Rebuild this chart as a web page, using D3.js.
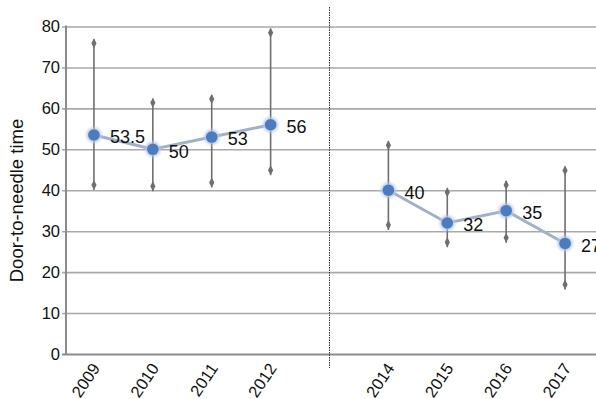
<!DOCTYPE html>
<html>
<head>
<meta charset="utf-8">
<script src="https://cdn.jsdelivr.net/npm/d3@7"></script>
<style>
  html, body { margin: 0; padding: 0; background: #fff; }
  svg { display: block; font-family: "Liberation Sans", Arial, Helvetica, sans-serif; }
</style>
</head>
<body>
<svg id="chart" width="596" height="399"></svg>
<script>
// Door-to-needle time per year, with low/high range whiskers
const years = ["2009", "2010", "2011", "2012", "2013", "2014", "2015", "2016", "2017"];
const periodA = ["2009", "2010", "2011", "2012"];
const periodB = ["2014", "2015", "2016", "2017"];
const medianA = [53.5, 50, 53, 56];
const medianB = [40, 32, 35, 27];
const lowA = [41.3, 41, 41.9, 44.9];
const lowB = [31.5, 27.3, 28.4, 17];
const highA = [75.9, 61.4, 62.3, 78.5];
const highB = [51, 39.5, 41.3, 44.8];
const yTicks = [0, 10, 20, 30, 40, 50, 60, 70, 80];
const breakYear = "2013";

const svg = d3.select("#chart");
const W = 596, H = 399;
const plotLeft = 66, plotTop = 26.5, plotBottom = 354;

const x = d3.scaleBand().domain(years).range([plotLeft - 1.5, W - 1.5]).padding(0);
const cx = d => x(d) + x.bandwidth() / 2;
const y = d3.scaleLinear().domain([0, 80]).range([plotBottom, plotTop]);

const defs = svg.append("defs");
const glow = defs.append("filter").attr("id", "glow")
  .attr("x", "-100%").attr("y", "-100%").attr("width", "300%").attr("height", "300%");
glow.append("feGaussianBlur").attr("stdDeviation", 1.6);

// Horizontal gridlines
const yAxis = d3.axisLeft(y).tickValues(yTicks).tickSize(-(W - plotLeft)).tickPadding(6);
const gy = svg.append("g").attr("transform", `translate(${plotLeft},0)`).call(yAxis);
gy.select(".domain").remove();
gy.selectAll(".tick line")
  .attr("stroke", "#a9a9a9").attr("stroke-width", 1.6)
  .attr("x1", -4);
gy.selectAll(".tick text")
  .attr("fill", "#111").attr("font-size", 16.5).attr("x", -6);
gy.selectAll(".tick").filter(d => d === 0).select("line").attr("stroke", "#8c8c8c").attr("stroke-width", 2);

// Left axis line
svg.append("line")
  .attr("x1", plotLeft).attr("x2", plotLeft).attr("y1", plotTop - 1).attr("y2", plotBottom + 1)
  .attr("stroke", "#8c8c8c").attr("stroke-width", 2);

// Dotted separator at the break year
svg.append("line")
  .attr("x1", cx(breakYear)).attr("x2", cx(breakYear))
  .attr("y1", 7).attr("y2", 368)
  .attr("stroke", "#333").attr("stroke-width", 1).attr("stroke-dasharray", "1.5,1");

// Bottom year labels
const xAxis = d3.axisBottom(x).tickValues(years.filter(d => d !== breakYear)).tickSize(0);
const gx = svg.append("g").attr("transform", `translate(0,${plotBottom})`).call(xAxis);
gx.select(".domain").remove();
gx.selectAll(".tick text")
  .attr("font-size", 16.5).attr("fill", "#111")
  .attr("text-anchor", "end")
  .attr("dy", "0.35em")
  .attr("transform", "translate(2,11) rotate(-56)")
  .attr("y", 0).attr("x", 0);

function drawPeriod(cats, med, lo, hi) {
  const rows = cats.map((c, i) => ({ c, m: med[i], lo: lo[i], hi: hi[i] }));
  const g = svg.append("g");

  // whiskers
  g.selectAll(".whisker").data(rows).join("line")
    .attr("x1", d => cx(d.c)).attr("x2", d => cx(d.c))
    .attr("y1", d => y(d.hi) - 4).attr("y2", d => y(d.lo) + 5)
    .attr("stroke", "#6f6f6f").attr("stroke-width", 1.6);
  const diamond = (px, py) => `M${px},${py - 5}L${px + 2.6},${py}L${px},${py + 5}L${px - 2.6},${py}Z`;
  g.selectAll(".capHi").data(rows).join("path")
    .attr("d", d => diamond(cx(d.c), y(d.hi))).attr("fill", "#6f6f6f");
  g.selectAll(".capLo").data(rows).join("path")
    .attr("d", d => diamond(cx(d.c), y(d.lo))).attr("fill", "#6f6f6f");

  // connecting line
  const line = d3.line().x(d => cx(d.c)).y(d => y(d.m));
  g.append("path").datum(rows).attr("d", line)
    .attr("fill", "none").attr("stroke", "#a2b1c6").attr("stroke-width", 3);

  // points with soft halo
  g.selectAll(".halo").data(rows).join("circle")
    .attr("cx", d => cx(d.c)).attr("cy", d => y(d.m)).attr("r", 7.5)
    .attr("fill", "#b9c8df").attr("filter", "url(#glow)");
  g.selectAll(".pt").data(rows).join("circle")
    .attr("cx", d => cx(d.c)).attr("cy", d => y(d.m)).attr("r", 5.8)
    .attr("fill", "#4a7cc1");

  // value labels
  g.selectAll(".lbl").data(rows).join("text")
    .attr("x", d => cx(d.c) + 16).attr("y", d => y(d.m) + 2)
    .attr("dy", "0.35em")
    .attr("font-size", 18).attr("fill", "#111")
    .text(d => d.m);
}
drawPeriod(periodA, medianA, lowA, highA);
drawPeriod(periodB, medianB, lowB, highB);

// Y axis title
svg.append("text")
  .attr("transform", `translate(17,200.5) rotate(-90)`)
  .attr("text-anchor", "middle").attr("dy", "0.35em")
  .attr("font-size", 18.5).attr("fill", "#111")
  .text("Door-to-needle time");
</script>
</body>
</html>
